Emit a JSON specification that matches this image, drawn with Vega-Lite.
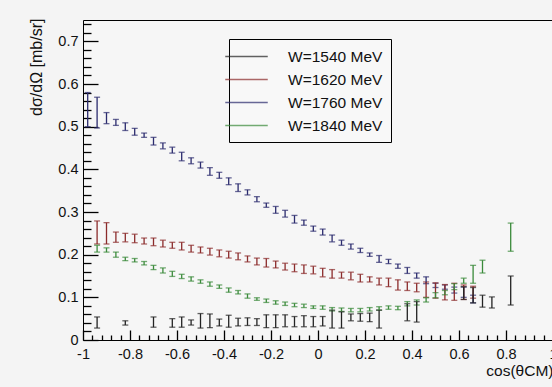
{
  "$schema": "https://vega.github.io/schema/vega-lite/v6.json",
  "autosize": "none",
  "padding": {"left": 83, "top": 20, "right": 0, "bottom": 47},
  "width": 470,
  "height": 320,
  "background": "#f4f4f4",
  "config": {
    "font": "Liberation Sans",
    "view": {"stroke": "black", "strokeWidth": 1, "fill": "#f6f6f6"},
    "axis": {"domainColor": "black", "grid": false, "labelFlush": false, "labelOverlap": false}
  },
  "datasets": {
    "pts": [
      {"W": "W=1760 MeV", "x": -0.98, "y": 0.54, "e": 0.04},
      {"W": "W=1760 MeV", "x": -0.94, "y": 0.533, "e": 0.036},
      {"W": "W=1760 MeV", "x": -0.90, "y": 0.52, "e": 0.013},
      {"W": "W=1760 MeV", "x": -0.86, "y": 0.51, "e": 0.007},
      {"W": "W=1760 MeV", "x": -0.82, "y": 0.5, "e": 0.009},
      {"W": "W=1760 MeV", "x": -0.78, "y": 0.488, "e": 0.008},
      {"W": "W=1760 MeV", "x": -0.74, "y": 0.48, "e": 0.005},
      {"W": "W=1760 MeV", "x": -0.70, "y": 0.466, "e": 0.009},
      {"W": "W=1760 MeV", "x": -0.66, "y": 0.455, "e": 0.007},
      {"W": "W=1760 MeV", "x": -0.62, "y": 0.445, "e": 0.007},
      {"W": "W=1760 MeV", "x": -0.58, "y": 0.43, "e": 0.01},
      {"W": "W=1760 MeV", "x": -0.54, "y": 0.42, "e": 0.007},
      {"W": "W=1760 MeV", "x": -0.50, "y": 0.41, "e": 0.007},
      {"W": "W=1760 MeV", "x": -0.46, "y": 0.395, "e": 0.009},
      {"W": "W=1760 MeV", "x": -0.42, "y": 0.386, "e": 0.007},
      {"W": "W=1760 MeV", "x": -0.38, "y": 0.372, "e": 0.008},
      {"W": "W=1760 MeV", "x": -0.34, "y": 0.357, "e": 0.009},
      {"W": "W=1760 MeV", "x": -0.30, "y": 0.346, "e": 0.006},
      {"W": "W=1760 MeV", "x": -0.26, "y": 0.33, "e": 0.006},
      {"W": "W=1760 MeV", "x": -0.22, "y": 0.316, "e": 0.005},
      {"W": "W=1760 MeV", "x": -0.18, "y": 0.305, "e": 0.008},
      {"W": "W=1760 MeV", "x": -0.14, "y": 0.296, "e": 0.008},
      {"W": "W=1760 MeV", "x": -0.10, "y": 0.283, "e": 0.009},
      {"W": "W=1760 MeV", "x": -0.06, "y": 0.275, "e": 0.006},
      {"W": "W=1760 MeV", "x": -0.02, "y": 0.261, "e": 0.006},
      {"W": "W=1760 MeV", "x": 0.02, "y": 0.253, "e": 0.007},
      {"W": "W=1760 MeV", "x": 0.06, "y": 0.238, "e": 0.008},
      {"W": "W=1760 MeV", "x": 0.10, "y": 0.228, "e": 0.006},
      {"W": "W=1760 MeV", "x": 0.14, "y": 0.219, "e": 0.006},
      {"W": "W=1760 MeV", "x": 0.18, "y": 0.21, "e": 0.005},
      {"W": "W=1760 MeV", "x": 0.22, "y": 0.2, "e": 0.004},
      {"W": "W=1760 MeV", "x": 0.26, "y": 0.19, "e": 0.008},
      {"W": "W=1760 MeV", "x": 0.30, "y": 0.184, "e": 0.005},
      {"W": "W=1760 MeV", "x": 0.34, "y": 0.173, "e": 0.005},
      {"W": "W=1760 MeV", "x": 0.38, "y": 0.163, "e": 0.007},
      {"W": "W=1760 MeV", "x": 0.42, "y": 0.151, "e": 0.006},
      {"W": "W=1760 MeV", "x": 0.46, "y": 0.14, "e": 0.008},
      {"W": "W=1760 MeV", "x": 0.50, "y": 0.128, "e": 0.005},
      {"W": "W=1760 MeV", "x": 0.54, "y": 0.124, "e": 0.005},
      {"W": "W=1760 MeV", "x": 0.58, "y": 0.117, "e": 0.007},
      {"W": "W=1760 MeV", "x": 0.62, "y": 0.112, "e": 0.012},
      {"W": "W=1760 MeV", "x": 0.66, "y": 0.096, "e": 0.009},

      {"W": "W=1620 MeV", "x": -0.94, "y": 0.252, "e": 0.027},
      {"W": "W=1620 MeV", "x": -0.90, "y": 0.25, "e": 0.025},
      {"W": "W=1620 MeV", "x": -0.86, "y": 0.241, "e": 0.012},
      {"W": "W=1620 MeV", "x": -0.82, "y": 0.24, "e": 0.01},
      {"W": "W=1620 MeV", "x": -0.78, "y": 0.238, "e": 0.01},
      {"W": "W=1620 MeV", "x": -0.74, "y": 0.232, "e": 0.007},
      {"W": "W=1620 MeV", "x": -0.70, "y": 0.23, "e": 0.009},
      {"W": "W=1620 MeV", "x": -0.66, "y": 0.226, "e": 0.008},
      {"W": "W=1620 MeV", "x": -0.62, "y": 0.222, "e": 0.007},
      {"W": "W=1620 MeV", "x": -0.58, "y": 0.22, "e": 0.009},
      {"W": "W=1620 MeV", "x": -0.54, "y": 0.214, "e": 0.008},
      {"W": "W=1620 MeV", "x": -0.50, "y": 0.211, "e": 0.007},
      {"W": "W=1620 MeV", "x": -0.46, "y": 0.207, "e": 0.008},
      {"W": "W=1620 MeV", "x": -0.42, "y": 0.203, "e": 0.008},
      {"W": "W=1620 MeV", "x": -0.38, "y": 0.2, "e": 0.008},
      {"W": "W=1620 MeV", "x": -0.34, "y": 0.196, "e": 0.008},
      {"W": "W=1620 MeV", "x": -0.30, "y": 0.19, "e": 0.007},
      {"W": "W=1620 MeV", "x": -0.26, "y": 0.184, "e": 0.008},
      {"W": "W=1620 MeV", "x": -0.22, "y": 0.181, "e": 0.01},
      {"W": "W=1620 MeV", "x": -0.18, "y": 0.177, "e": 0.008},
      {"W": "W=1620 MeV", "x": -0.14, "y": 0.172, "e": 0.008},
      {"W": "W=1620 MeV", "x": -0.10, "y": 0.169, "e": 0.009},
      {"W": "W=1620 MeV", "x": -0.06, "y": 0.166, "e": 0.01},
      {"W": "W=1620 MeV", "x": -0.02, "y": 0.164, "e": 0.009},
      {"W": "W=1620 MeV", "x": 0.02, "y": 0.158, "e": 0.01},
      {"W": "W=1620 MeV", "x": 0.06, "y": 0.155, "e": 0.01},
      {"W": "W=1620 MeV", "x": 0.10, "y": 0.152, "e": 0.007},
      {"W": "W=1620 MeV", "x": 0.14, "y": 0.15, "e": 0.009},
      {"W": "W=1620 MeV", "x": 0.18, "y": 0.145, "e": 0.009},
      {"W": "W=1620 MeV", "x": 0.22, "y": 0.142, "e": 0.006},
      {"W": "W=1620 MeV", "x": 0.26, "y": 0.137, "e": 0.008},
      {"W": "W=1620 MeV", "x": 0.30, "y": 0.135, "e": 0.01},
      {"W": "W=1620 MeV", "x": 0.34, "y": 0.129, "e": 0.012},
      {"W": "W=1620 MeV", "x": 0.38, "y": 0.126, "e": 0.01},
      {"W": "W=1620 MeV", "x": 0.42, "y": 0.123, "e": 0.01},
      {"W": "W=1620 MeV", "x": 0.46, "y": 0.118, "e": 0.018},
      {"W": "W=1620 MeV", "x": 0.50, "y": 0.116, "e": 0.018},
      {"W": "W=1620 MeV", "x": 0.54, "y": 0.112, "e": 0.018},
      {"W": "W=1620 MeV", "x": 0.58, "y": 0.113, "e": 0.02},
      {"W": "W=1620 MeV", "x": 0.62, "y": 0.112, "e": 0.017},
      {"W": "W=1620 MeV", "x": 0.66, "y": 0.112, "e": 0.014},

      {"W": "W=1840 MeV", "x": -0.94, "y": 0.214, "e": 0.008},
      {"W": "W=1840 MeV", "x": -0.90, "y": 0.211, "e": 0.005},
      {"W": "W=1840 MeV", "x": -0.86, "y": 0.2, "e": 0.006},
      {"W": "W=1840 MeV", "x": -0.82, "y": 0.19, "e": 0.004},
      {"W": "W=1840 MeV", "x": -0.78, "y": 0.187, "e": 0.004},
      {"W": "W=1840 MeV", "x": -0.74, "y": 0.18, "e": 0.004},
      {"W": "W=1840 MeV", "x": -0.70, "y": 0.17, "e": 0.005},
      {"W": "W=1840 MeV", "x": -0.66, "y": 0.163, "e": 0.006},
      {"W": "W=1840 MeV", "x": -0.62, "y": 0.155, "e": 0.006},
      {"W": "W=1840 MeV", "x": -0.58, "y": 0.149, "e": 0.005},
      {"W": "W=1840 MeV", "x": -0.54, "y": 0.143, "e": 0.005},
      {"W": "W=1840 MeV", "x": -0.50, "y": 0.137, "e": 0.004},
      {"W": "W=1840 MeV", "x": -0.46, "y": 0.131, "e": 0.005},
      {"W": "W=1840 MeV", "x": -0.42, "y": 0.125, "e": 0.004},
      {"W": "W=1840 MeV", "x": -0.38, "y": 0.117, "e": 0.005},
      {"W": "W=1840 MeV", "x": -0.34, "y": 0.112, "e": 0.004},
      {"W": "W=1840 MeV", "x": -0.30, "y": 0.103, "e": 0.005},
      {"W": "W=1840 MeV", "x": -0.26, "y": 0.096, "e": 0.003},
      {"W": "W=1840 MeV", "x": -0.22, "y": 0.092, "e": 0.004},
      {"W": "W=1840 MeV", "x": -0.18, "y": 0.088, "e": 0.004},
      {"W": "W=1840 MeV", "x": -0.14, "y": 0.085, "e": 0.004},
      {"W": "W=1840 MeV", "x": -0.10, "y": 0.082, "e": 0.004},
      {"W": "W=1840 MeV", "x": -0.06, "y": 0.08, "e": 0.004},
      {"W": "W=1840 MeV", "x": -0.02, "y": 0.077, "e": 0.003},
      {"W": "W=1840 MeV", "x": 0.02, "y": 0.076, "e": 0.004},
      {"W": "W=1840 MeV", "x": 0.06, "y": 0.072, "e": 0.004},
      {"W": "W=1840 MeV", "x": 0.10, "y": 0.071, "e": 0.004},
      {"W": "W=1840 MeV", "x": 0.14, "y": 0.07, "e": 0.004},
      {"W": "W=1840 MeV", "x": 0.18, "y": 0.07, "e": 0.004},
      {"W": "W=1840 MeV", "x": 0.22, "y": 0.072, "e": 0.004},
      {"W": "W=1840 MeV", "x": 0.26, "y": 0.074, "e": 0.004},
      {"W": "W=1840 MeV", "x": 0.30, "y": 0.076, "e": 0.004},
      {"W": "W=1840 MeV", "x": 0.34, "y": 0.075, "e": 0.004},
      {"W": "W=1840 MeV", "x": 0.38, "y": 0.085, "e": 0.005},
      {"W": "W=1840 MeV", "x": 0.42, "y": 0.088, "e": 0.006},
      {"W": "W=1840 MeV", "x": 0.46, "y": 0.094, "e": 0.005},
      {"W": "W=1840 MeV", "x": 0.50, "y": 0.105, "e": 0.006},
      {"W": "W=1840 MeV", "x": 0.54, "y": 0.111, "e": 0.005},
      {"W": "W=1840 MeV", "x": 0.58, "y": 0.125, "e": 0.007},
      {"W": "W=1840 MeV", "x": 0.62, "y": 0.139, "e": 0.006},
      {"W": "W=1840 MeV", "x": 0.66, "y": 0.154, "e": 0.021},
      {"W": "W=1840 MeV", "x": 0.70, "y": 0.172, "e": 0.015},
      {"W": "W=1840 MeV", "x": 0.82, "y": 0.241, "e": 0.033},

      {"W": "W=1540 MeV", "x": -0.94, "y": 0.041, "e": 0.013},
      {"W": "W=1540 MeV", "x": -0.82, "y": 0.04, "e": 0.005},
      {"W": "W=1540 MeV", "x": -0.70, "y": 0.042, "e": 0.012},
      {"W": "W=1540 MeV", "x": -0.62, "y": 0.04, "e": 0.01},
      {"W": "W=1540 MeV", "x": -0.58, "y": 0.042, "e": 0.012},
      {"W": "W=1540 MeV", "x": -0.54, "y": 0.041, "e": 0.006},
      {"W": "W=1540 MeV", "x": -0.50, "y": 0.045, "e": 0.017},
      {"W": "W=1540 MeV", "x": -0.46, "y": 0.045, "e": 0.016},
      {"W": "W=1540 MeV", "x": -0.42, "y": 0.041, "e": 0.008},
      {"W": "W=1540 MeV", "x": -0.38, "y": 0.044, "e": 0.014},
      {"W": "W=1540 MeV", "x": -0.34, "y": 0.042, "e": 0.009},
      {"W": "W=1540 MeV", "x": -0.30, "y": 0.043, "e": 0.009},
      {"W": "W=1540 MeV", "x": -0.26, "y": 0.042, "e": 0.008},
      {"W": "W=1540 MeV", "x": -0.22, "y": 0.044, "e": 0.015},
      {"W": "W=1540 MeV", "x": -0.18, "y": 0.044, "e": 0.015},
      {"W": "W=1540 MeV", "x": -0.14, "y": 0.045, "e": 0.014},
      {"W": "W=1540 MeV", "x": -0.10, "y": 0.043, "e": 0.012},
      {"W": "W=1540 MeV", "x": -0.06, "y": 0.044, "e": 0.013},
      {"W": "W=1540 MeV", "x": -0.02, "y": 0.043, "e": 0.012},
      {"W": "W=1540 MeV", "x": 0.02, "y": 0.044, "e": 0.011},
      {"W": "W=1540 MeV", "x": 0.06, "y": 0.049, "e": 0.021},
      {"W": "W=1540 MeV", "x": 0.10, "y": 0.047, "e": 0.019},
      {"W": "W=1540 MeV", "x": 0.14, "y": 0.053, "e": 0.008},
      {"W": "W=1540 MeV", "x": 0.18, "y": 0.053, "e": 0.009},
      {"W": "W=1540 MeV", "x": 0.22, "y": 0.053, "e": 0.01},
      {"W": "W=1540 MeV", "x": 0.26, "y": 0.049, "e": 0.021},
      {"W": "W=1540 MeV", "x": 0.38, "y": 0.065, "e": 0.02},
      {"W": "W=1540 MeV", "x": 0.42, "y": 0.066, "e": 0.024},
      {"W": "W=1540 MeV", "x": 0.62, "y": 0.11, "e": 0.015},
      {"W": "W=1540 MeV", "x": 0.66, "y": 0.105, "e": 0.018},
      {"W": "W=1540 MeV", "x": 0.70, "y": 0.091, "e": 0.014},
      {"W": "W=1540 MeV", "x": 0.74, "y": 0.088, "e": 0.013},
      {"W": "W=1540 MeV", "x": 0.82, "y": 0.116, "e": 0.034}
    ]
  },
  "data": {"name": "pts"},
  "resolve": {"axis": {"x": "independent", "y": "independent"}},
  "layer": [
    {
      "mark": {"type": "point", "opacity": 0},
      "encoding": {
        "x": {
          "field": "x", "type": "quantitative",
          "scale": {"domain": [-1, 1], "nice": false, "zero": false},
          "axis": {
            "orient": "bottom",
            "values": [-0.96, -0.92, -0.88, -0.84, -0.76, -0.72, -0.68, -0.64, -0.56, -0.52, -0.48, -0.44, -0.36, -0.32, -0.28, -0.24, -0.16, -0.12, -0.08, -0.04, 0.04, 0.08, 0.12, 0.16, 0.24, 0.28, 0.32, 0.36, 0.44, 0.48, 0.52, 0.56, 0.64, 0.68, 0.72, 0.76, 0.84, 0.88, 0.92, 0.96],
            "labels": false,
            "domain": false,
            "title": null,
            "offset": -5,
            "tickSize": 5,
            "tickColor": "#000000",
            "tickWidth": 1.3
          }
        },
        "y": {
          "field": "y", "type": "quantitative",
          "scale": {"domain": [0, 0.75], "nice": false},
          "axis": {
            "orient": "left",
            "values": [0.02, 0.04, 0.06, 0.08, 0.12, 0.14, 0.16, 0.18, 0.22, 0.24, 0.26, 0.28, 0.32, 0.34, 0.36, 0.38, 0.42, 0.44, 0.46, 0.48, 0.52, 0.54, 0.56, 0.58, 0.62, 0.64, 0.66, 0.68, 0.72, 0.74],
            "labels": false,
            "domain": false,
            "title": null,
            "offset": -8,
            "tickSize": 8,
            "tickColor": "#000000",
            "tickWidth": 1.3
          }
        }
      }
    },
    {
      "mark": {"type": "errorbar", "ticks": {"size": 6}, "thickness": 1.3},
      "encoding": {
        "x": {
          "field": "x", "type": "quantitative",
          "scale": {"domain": [-1, 1], "nice": false, "zero": false},
          "axis": {
            "orient": "bottom",
            "values": [-1, -0.8, -0.6, -0.4, -0.2, 0, 0.2, 0.4, 0.6, 0.8, 1],
            "labelExpr": "'' + datum.value",
            "domain": false,
            "offset": -10,
            "tickSize": 10,
            "tickColor": "#000000",
            "tickWidth": 1.3,
            "labelPadding": 7,
            "labelFontSize": 14.5,
            "labelColor": "#111",
            "title": "cos(θCM)",
            "titleFontSize": 15.5,
            "titleFontWeight": "normal",
            "titleColor": "#111",
            "titleX": 470,
            "titleY": 45,
            "titleAlign": "right",
            "titleBaseline": "alphabetic"
          }
        },
        "y": {
          "field": "y", "type": "quantitative",
          "scale": {"domain": [0, 0.75], "nice": false},
          "axis": {
            "orient": "left",
            "values": [0, 0.1, 0.2, 0.3, 0.4, 0.5, 0.6, 0.7],
            "labelExpr": "'' + datum.value",
            "domain": false,
            "offset": -15,
            "tickSize": 15,
            "tickColor": "#000000",
            "tickWidth": 1.3,
            "labelPadding": 5,
            "labelFontSize": 14.5,
            "labelColor": "#111",
            "title": "dσ/dΩ [mb/sr]",
            "titleFontSize": 16,
            "titleFontWeight": "normal",
            "titleColor": "#111",
            "titleAngle": 270,
            "titleX": -62,
            "titleY": -2,
            "titleAlign": "right",
            "titleBaseline": "middle"
          }
        },
        "yError": {"field": "e"},
        "color": {
          "field": "W", "type": "nominal",
          "scale": {
            "domain": ["W=1540 MeV", "W=1620 MeV", "W=1760 MeV", "W=1840 MeV"],
            "range": ["#222222", "#8b2b2b", "#2b2b6e", "#3a8a3a"]
          },
          "legend": {
            "orient": "none",
            "legendX": 146,
            "legendY": 19,
            "title": null,
            "symbolType": "M-2.5,0H2.5",
            "symbolSize": 289,
            "symbolStrokeWidth": 1.5,
            "labelOffset": 32,
            "labelFontSize": 15.5,
            "labelColor": "#111",
            "strokeColor": "black",
            "fillColor": "#f8f8f8",
            "padding": 8,
            "rowPadding": 5
          }
        }
      }
    }
  ]
}
